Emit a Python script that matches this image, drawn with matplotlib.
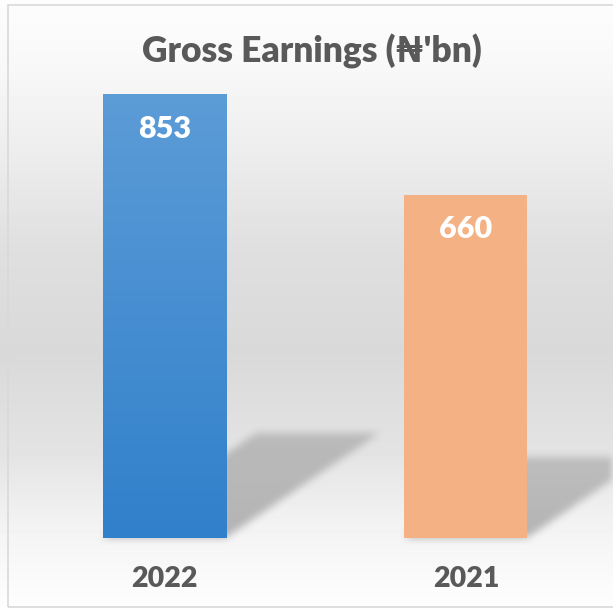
import numpy as np
import matplotlib
matplotlib.use("Agg")
import matplotlib.pyplot as plt
from matplotlib.path import Path
from matplotlib.patches import Rectangle

# chart data
years = ["2022", "2021"]
earnings = [853, 660]
title = "Gross Earnings (\u20a6'bn)"

bar_colors = ["#4a90d4", "#f4b183"]
blue_top, blue_bottom = "#5c9cd7", "#3180cb"
text_gray = "#595959"
fonts = ["Lato", "DejaVu Sans"]

W, H = 613, 608
fig = plt.figure(figsize=(W / 100, H / 100), dpi=100)
ax = fig.add_axes([0, 0, 1, 1])
x = np.arange(len(years))
ax.set_xlim(-0.5456, 1.4876)
ax.set_ylim(-135.7, 1034.6)
ax.axis("off")
xl, yl = ax.get_xlim(), ax.get_ylim()
extent = (xl[0], xl[1], yl[0], yl[1])

# background: soft vertical gradient (light top/bottom, grey middle)
rows = np.arange(H)
prof = np.interp(rows, [0, 60, 150, 250, 350, 450, 530, 608],
                 [0.99, 0.975, 0.93, 0.875, 0.85, 0.89, 0.955, 0.995])
bg = np.repeat(prof[:, None], W, axis=1)
ax.imshow(bg, extent=extent, aspect="auto", cmap="gray", vmin=0, vmax=1,
          zorder=0, interpolation="bilinear")

# blurred floor shadows behind the bars
width = 0.408
fig.canvas.draw()
px, py = np.meshgrid(np.arange(W) + 0.5, H - 0.5 - np.arange(H))
pts = np.column_stack([px.ravel(), py.ravel()])
mask = np.zeros(H * W)
for xi, v in zip(x, earnings):
    hpx = ax.transData.transform([(0, v)])[0][1] - ax.transData.transform([(0, 0)])[0][1]
    x0, x1 = xi - width / 2, xi + width / 2
    base = ax.transData.transform([(x0, 0), (x1, 0)])
    sx, sy = 0.345 * hpx, 0.235 * hpx
    poly = [base[0], base[1], base[1] + [sx, sy], base[0] + [sx, sy]]
    m = Path(poly).contains_points(pts).astype(float)
    # fade a bit toward the far end
    fade = 1 - 0.3 * np.clip((pts[:, 1] - base[0][1]) / sy, 0, 1)
    mask = np.maximum(mask, m * fade)
mask = mask.reshape(H, W)
k = np.ones(9) / 9
for _ in range(2):
    mask = np.apply_along_axis(lambda r: np.convolve(r, k, mode="same"), 1, mask)
    mask = np.apply_along_axis(lambda c: np.convolve(c, k, mode="same"), 0, mask)
shadow = np.zeros((H, W, 4))
shadow[..., :3] = 0.45
shadow[..., 3] = mask * 0.5
ax.imshow(shadow, extent=extent, aspect="auto", zorder=1, interpolation="bilinear")

# bars
bars = ax.bar(x, earnings, width=width, color=bar_colors, zorder=2, linewidth=0)
grad = np.linspace(0, 1, 256)[:, None]
c_top = np.array(matplotlib.colors.to_rgb(blue_top))
c_bot = np.array(matplotlib.colors.to_rgb(blue_bottom))
gimg = (c_top[None, None, :] * (1 - grad[..., None]) + c_bot[None, None, :] * grad[..., None])
b0 = bars[0]
im = ax.imshow(gimg, extent=(b0.get_x(), b0.get_x() + b0.get_width(), 0, earnings[0]),
               aspect="auto", zorder=3)
im.set_clip_path(b0)

# labels
for xi, v, yr in zip(x, earnings, years):
    ax.annotate(f"{v}", (xi, v), xytext=(0, -24.8), textcoords="offset points",
                ha="center", va="center", color="white", fontsize=22,
                fontweight="heavy", family=fonts, zorder=4)
    ax.annotate(yr, (xi, 0), xytext=(0, -29.9), textcoords="offset points",
                ha="center", va="center", color=text_gray, fontsize=20.5,
                fontweight="heavy", family=fonts, zorder=4)

fig.text(312 / W, 1 - 51 / H, title, ha="center", va="center", color=text_gray,
         fontsize=25.5, fontweight="heavy", family=fonts)

# chart border
fig.add_artist(Rectangle((8 / W, 1.5 / H), 1, 1 - 6.5 / H, transform=fig.transFigure,
                         fill=False, edgecolor="#d9d9d9", linewidth=1.2))

fig.savefig("out.png", dpi=100)
